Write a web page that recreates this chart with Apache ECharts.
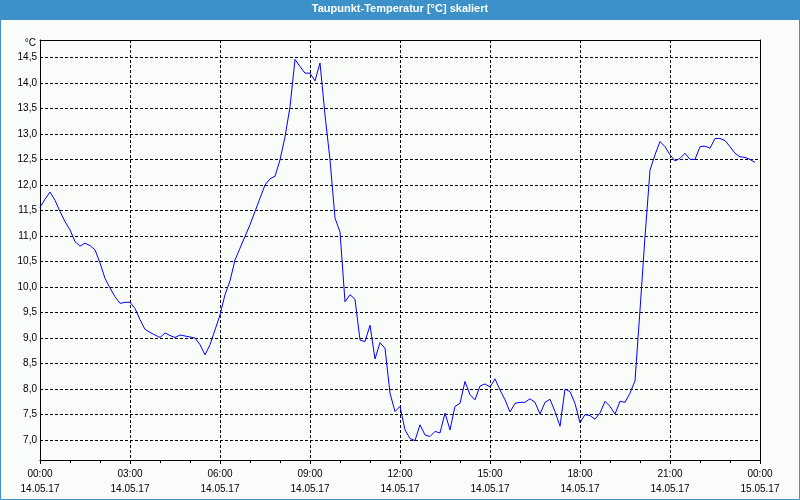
<!DOCTYPE html>
<html>
<head>
<meta charset="utf-8">
<script src="https://cdn.jsdelivr.net/npm/echarts@6/dist/echarts.min.js"></script>
<style>
html,body{margin:0;padding:0;background:#fafcfa;}
#chart{width:800px;height:500px;}
</style>
</head>
<body>
<div id="chart"></div>
<script>
// Dew point, 10-minute readings from 14.05.17 00:00 to 23:50
const titleText = 'Taupunkt-Temperatur [°C] skaliert';
const unitLabel = '°C';
const startMinute = 0;
const stepMinutes = 10;
const dewPoint = [
  11.56, 11.72, 11.86, 11.70, 11.48, 11.28, 11.12, 10.89, 10.80, 10.86,
  10.81, 10.73, 10.47, 10.17, 9.98, 9.81, 9.68, 9.70, 9.70, 9.58,
  9.36, 9.17, 9.11, 9.06, 9.01, 9.10, 9.05, 9.01, 9.06, 9.04,
  9.02, 9.00, 8.87, 8.67, 8.87, 9.16, 9.45, 9.85, 10.12, 10.53,
  10.76, 10.99, 11.22, 11.48, 11.74, 12.00, 12.12, 12.17, 12.49, 12.94,
  13.53, 14.46, 14.32, 14.19, 14.19, 14.04, 14.39, 13.37, 12.49, 11.35,
  11.08, 9.71, 9.85, 9.76, 8.96, 8.93, 9.25, 8.59, 8.91, 8.80,
  7.92, 7.56, 7.66, 7.20, 7.03, 6.99, 7.30, 7.10, 7.07, 7.17,
  7.14, 7.53, 7.20, 7.66, 7.72, 8.15, 7.89, 7.79, 8.06, 8.10,
  8.04, 8.20, 7.98, 7.79, 7.55, 7.72, 7.74, 7.74, 7.81, 7.74,
  7.51, 7.74, 7.80, 7.56, 7.27, 8.00, 7.95, 7.72, 7.34, 7.50,
  7.48, 7.41, 7.53, 7.76, 7.66, 7.51, 7.76, 7.74, 7.92, 8.16,
  9.55, 10.99, 12.29, 12.59, 12.85, 12.75, 12.59, 12.47, 12.52, 12.62,
  12.50, 12.50, 12.75, 12.76, 12.72, 12.91, 12.91, 12.87, 12.75, 12.62,
  12.55, 12.54, 12.50, 12.44
];
const tickTimes = ['00:00','03:00','06:00','09:00','12:00','15:00','18:00','21:00','00:00'];
const tickDates = ['14.05.17','14.05.17','14.05.17','14.05.17','14.05.17','14.05.17','14.05.17','14.05.17','15.05.17'];
const yMin = 6.61;
const yMax = 14.84;

const seriesData = dewPoint.map((v, i) => [startMinute + i * stepMinutes, v]);

const FONT = "'Liberation Sans', Arial, sans-serif";
const BLUE = '#3c91c8';

const chart = echarts.init(document.getElementById('chart'), null, {renderer: 'canvas'});
chart.setOption({
  backgroundColor: '#fafcfa',
  animation: false,
  title: {
    text: titleText,
    left: 'center',
    top: 0,
    padding: [2, 0, 0, 18],
    textStyle: {color: '#ffffff', fontFamily: FONT, fontWeight: 'bold', fontSize: 11, lineHeight: 13}
  },
  graphic: [
    {type: 'rect', z: -10, silent: true, shape: {x: 0, y: 0, width: 800, height: 20}, style: {fill: BLUE}},
    {type: 'rect', z: 100, silent: true, shape: {x: 0.5, y: 0.5, width: 799, height: 499}, style: {fill: null, stroke: BLUE, lineWidth: 1}}
  ],
  grid: {left: 40, right: 40, top: 40, bottom: 40, containLabel: false},
  xAxis: [
    {
      type: 'value', min: 0, max: 1440, interval: 180,
      axisLine: {show: true, lineStyle: {color: '#000', width: 1}},
      axisTick: {show: true, length: 4, lineStyle: {color: '#000'}},
      minorTick: {show: true, splitNumber: 3, length: 3, lineStyle: {color: '#000'}},
      splitLine: {show: true, lineStyle: {color: '#000', type: [3, 2], width: 1}},
      axisLabel: {
        margin: 7, color: '#000', fontFamily: FONT, fontSize: 10, lineHeight: 15,
        formatter: function (v) { const k = Math.round(v / 180); return tickTimes[k] + '\n' + tickDates[k]; }
      }
    },
    {
      type: 'value', position: 'top', min: 0, max: 1440,
      axisLine: {show: true, onZero: false, lineStyle: {color: '#000', width: 1}},
      axisTick: {show: false}, axisLabel: {show: false}, splitLine: {show: false}
    }
  ],
  yAxis: [
    {
      type: 'value', min: yMin, max: yMax, splitNumber: 16,
      name: unitLabel, nameLocation: 'end', nameGap: -3,
      nameTextStyle: {color: '#000', fontFamily: FONT, fontSize: 10, align: 'right', verticalAlign: 'middle', padding: [0, 4, 0, 0]},
      axisLine: {show: true, lineStyle: {color: '#000', width: 1}},
      axisTick: {show: false},
      splitLine: {show: true, lineStyle: {color: '#000', type: [3, 2], width: 1}},
      axisLabel: {
        margin: 3, color: '#000', fontFamily: FONT, fontSize: 10,
        showMinLabel: false, showMaxLabel: false,
        formatter: function (v) {
          const r = Math.round(v * 2) / 2;
          if (Math.abs(r - v) > 1e-6) return '';
          return r.toFixed(1).replace('.', ',');
        }
      }
    },
    {
      type: 'value', position: 'right', min: yMin, max: yMax,
      axisLine: {show: true, onZero: false, lineStyle: {color: '#000', width: 1}},
      axisTick: {show: false}, axisLabel: {show: false}, splitLine: {show: false}
    }
  ],
  series: [{
    type: 'line',
    name: titleText,
    data: seriesData,
    xAxisIndex: 0, yAxisIndex: 0,
    showSymbol: false,
    symbol: 'none',
    lineStyle: {color: '#0000ff', width: 1},
    z: 5
  }]
});
</script>
</body>
</html>
